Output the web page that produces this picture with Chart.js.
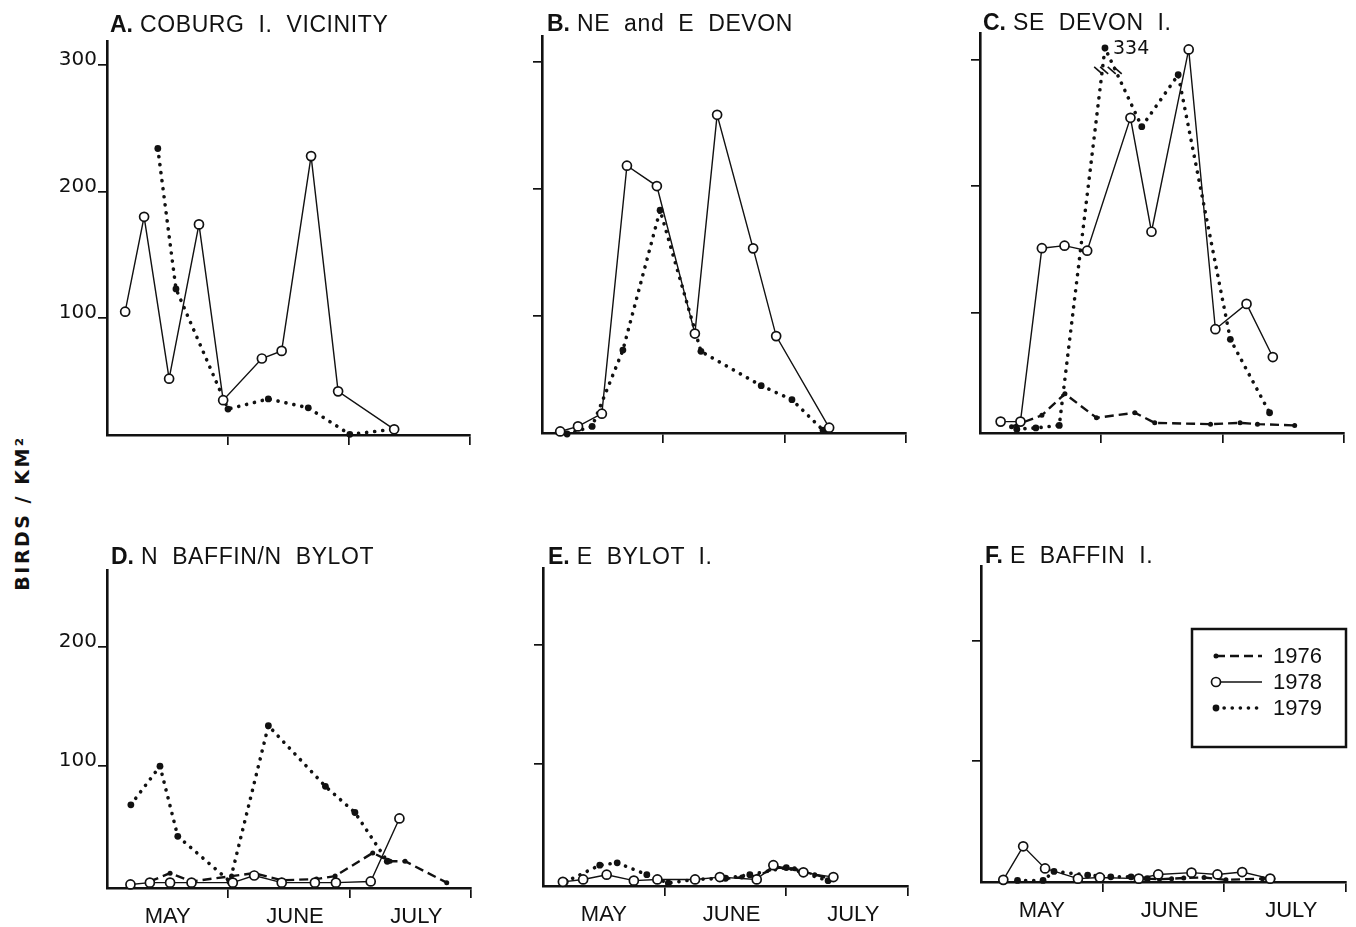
<!DOCTYPE html>
<html>
<head>
<meta charset="utf-8">
<script src="https://cdn.jsdelivr.net/npm/chart.js@4.4.1/dist/chart.umd.min.js"></script>
<style>
  body { margin: 0; background: #fff; }
  #wrap { position: relative; width: 1356px; height: 927px; overflow: hidden; background: #fff; }
  canvas { position: absolute; }
  .ttl { position: absolute; font-family: 'Liberation Sans', Arial, sans-serif; font-size: 23px; line-height: 1;
         white-space: pre; color: #111; letter-spacing: 0.6px; }
  .ttl b { font-weight: bold; letter-spacing: 0; }
  #ylab { position: absolute; left: 22px; top: 513px; transform: translate(-50%, -50%) rotate(-90deg);
          font-family: 'DejaVu Sans', sans-serif; font-weight: bold; font-size: 19px; letter-spacing: 2.5px;
          white-space: pre; color: #111; }
</style>
</head>
<body>
<div id="wrap">
  <div id="ylab">BIRDS / KM²</div>
</div>
<script>
// x = days after 1 May (each month drawn as 30 days), y = birds per km2
const months = ['MAY', 'JUNE', 'JULY'];
const monthLabelDays = [15, 46.5, 76.5];
const monthTicks = [30, 60, 90];
const yTicks = [100, 200, 300];
const years = ['1976', '1978', '1979'];

// A. Coburg I. vicinity
const a1978 = [[4.5, 105], [9.2, 180], [15.4, 52], [22.8, 174], [28.8, 35], [38.4, 68], [43.3, 74], [50.6, 228], [57.3, 42], [71.2, 12]];
const a1979 = [[12.6, 234], [17.1, 123], [30, 28], [40, 36], [49.9, 29], [60.2, 8], [71, 12]];

// B. NE and E Devon
const b1978 = [[4.5, 9], [8.9, 13], [14.8, 23], [21, 218], [28.4, 202], [37.8, 86], [43.3, 258], [52.2, 153], [57.9, 84], [71, 12]];
const b1979 = [[6.2, 7], [12.4, 13], [20, 73], [29.2, 183], [39.3, 72], [54.2, 45], [61.8, 34], [69.5, 10]];

// C. SE Devon I.  (334 is drawn below an axis break)
const c1976 = [[7.8, 10], [15.3, 19], [21, 36], [28.8, 17], [38.3, 21], [43.2, 13], [57, 12], [64.3, 13], [68.6, 12], [77.8, 11]];
const c1978 = [[5.1, 14], [10, 14], [15.3, 151], [20.9, 153], [26.5, 149], [37.2, 254], [42.4, 164], [51.6, 308], [58.2, 87], [65.9, 107], [72.4, 65]];
const c1979 = [[9.1, 8], [13.8, 9], [19.6, 11], [30.9, 334], [40, 247], [49, 288], [61.9, 79], [71.6, 21]];

// D. N Baffin / N Bylot
const d1976 = [[10.6, 3], [15.6, 10], [20.9, 3], [30.8, 7.5], [36.4, 10], [43.2, 4], [51.8, 5], [56.4, 7.5], [65.7, 27], [70, 20], [73.7, 20], [84, 2]];
const d1978 = [[5.8, 0.5], [10.6, 2], [15.6, 2], [20.9, 2], [31.1, 2], [36.4, 8], [43.2, 2], [51.4, 2], [56.6, 2], [65.2, 3], [72.3, 56]];
const d1979 = [[5.9, 67.5], [13.1, 100], [17.5, 41], [30.4, 3], [39.9, 134], [54, 83], [61.3, 61], [69.3, 20]];

// E. E Bylot I.
const e1976 = [[44, 3], [49, 5], [53, 6], [57.5, 13], [62, 12], [67, 7], [71.5, 3]];
const e1978 = [[4.9, 1], [9.9, 3], [15.7, 7], [22.4, 2], [28.2, 3], [37.5, 3], [43.6, 5], [52.7, 3], [56.8, 15], [64.2, 9], [71.6, 5]];
const e1979 = [[5.5, 1], [14, 15], [18.3, 17], [25.6, 7], [30.9, 0], [37.5, 3], [45, 4], [51, 7], [60, 13], [70.3, 2]];

// F. E Baffin I.
const f1976 = [[41, 2], [44, 1.5], [47, 2], [50, 2.5], [55, 3], [60.4, 1], [69.4, 2], [72, 2]];
const f1978 = [[5.5, 1], [10.4, 29], [15.8, 10.5], [23.9, 2], [29.3, 3], [38.9, 2], [43.7, 5.5], [51.9, 7], [58.3, 5.5], [64.4, 7.5], [71.3, 2]];
const f1979 = [[9, 0.5], [15.3, 0.5], [18, 8], [26.3, 5], [32, 3.5], [37, 3.5], [41, 2]];

// values above the axis top are folded down (axis break)
const brk = v => v > 320 ? 300 + (v - 300) * 0.27 : v;

// panel frames: l/r/t/b = plot box on the page
const panels = [
  { key: 'A', name: ' COBURG  I.  VICINITY', l: 107, r: 470, t: 38, b: 435, min: 7.5, max: 319, nums: true, months: false,
    s: { '1976': null, '1978': a1978, '1979': a1979 }, tx: 110, ty: 13 },
  { key: 'B', name: ' NE  and  E  DEVON', l: 542, r: 906, t: 33, b: 433, min: 7.8, max: 320, nums: false, months: false,
    s: { '1976': null, '1978': b1978, '1979': b1979 }, tx: 547, ty: 12 },
  { key: 'C', name: ' SE  DEVON  I.', l: 980, r: 1344, t: 30, b: 433, min: 5, max: 321, nums: false, months: false,
    s: { '1976': c1976, '1978': c1978, '1979': c1979 }, tx: 983, ty: 11, breakLabel: true },
  { key: 'D', name: ' N  BAFFIN/N  BYLOT', l: 107, r: 471, t: 567, b: 888, min: -2.5, max: 265, nums: true, months: true,
    s: { '1976': d1976, '1978': d1978, '1979': d1979 }, tx: 111, ty: 545 },
  { key: 'E', name: ' E  BYLOT  I.', l: 543, r: 908, t: 565, b: 886, min: -2.5, max: 265, nums: false, months: true,
    s: { '1976': e1976, '1978': e1978, '1979': e1979 }, tx: 548, ty: 545 },
  { key: 'F', name: ' E  BAFFIN  I.', l: 981, r: 1346, t: 563, b: 882, min: -0.8, max: 262.8, nums: false, months: true,
    s: { '1976': f1976, '1978': f1978, '1979': f1979 }, tx: 985, ty: 544, legend: true }
];

const YW = 60, PT = 10, PR = 12, XH = 12, X2H = 44;

const styles = {
  '1978': { borderWidth: 1.4, pointRadius: 4.5, pointBackgroundColor: '#fff', pointBorderWidth: 1.7, borderDash: [] },
  '1979': { borderWidth: 3.6, borderDash: [0.1, 8], borderCapStyle: 'round', pointRadius: 3.4, pointBackgroundColor: '#111', pointBorderWidth: 0 },
  '1976': { borderWidth: 2.4, borderDash: [9, 5], pointRadius: 2.5, pointBackgroundColor: '#111', pointBorderWidth: 0 }
};

// break marks and the "334" label for panel C, legend box for panel F
const extras = {
  id: 'extras',
  afterDatasetsDraw(chart, args, opts) {
    const ctx = chart.ctx;
    const xs = chart.scales.x, ys = chart.scales.y;
    if (opts.breakLabel) {
      const ds = chart.data.datasets.find(d => d.label === '1979');
      const i = ds.raw.findIndex(p => p[1] > 320);
      const peak = ds.data[i];
      const px = xs.getPixelForValue(peak.x), py = ys.getPixelForValue(peak.y);
      ctx.save();
      ctx.strokeStyle = '#111';
      ctx.lineWidth = 1.6;
      [ds.data[i - 1], ds.data[i + 1]].forEach(n => {
        const nx = xs.getPixelForValue(n.x), ny = ys.getPixelForValue(n.y);
        const t = (ys.getPixelForValue(291) - py) / (ny - py);
        const mx = px + (nx - px) * t, my = ys.getPixelForValue(291);
        [-3, 3].forEach(k => {
          ctx.beginPath();
          ctx.moveTo(mx - 5 + k, my - 4);
          ctx.lineTo(mx + 3 + k, my + 3);
          ctx.stroke();
        });
      });
      ctx.fillStyle = '#111';
      ctx.font = '19px "DejaVu Sans", sans-serif';
      ctx.textBaseline = 'middle';
      ctx.textAlign = 'left';
      ctx.fillText(String(ds.raw[i][1]), px + 8, py + 1);
      ctx.restore();
    }
    if (opts.legend) {
      const ca = chart.chartArea;
      const bx = ca.right - 154, by = ca.top + 63, bw = 154, bh = 118;
      ctx.save();
      ctx.strokeStyle = '#111';
      ctx.lineWidth = 2.5;
      ctx.strokeRect(bx, by, bw, bh);
      ctx.font = '22px "Liberation Sans", Arial, sans-serif';
      ctx.textBaseline = 'middle';
      ctx.fillStyle = '#111';
      years.forEach((yr, k) => {
        const st = styles[yr];
        const yy = by + 27 + k * 26;
        ctx.beginPath();
        ctx.setLineDash(st.borderDash);
        ctx.lineCap = st.borderCapStyle || 'butt';
        ctx.lineWidth = st.borderWidth;
        ctx.moveTo(bx + 24, yy);
        ctx.lineTo(bx + 70, yy);
        ctx.stroke();
        ctx.setLineDash([]);
        ctx.beginPath();
        ctx.arc(bx + 24, yy, st.pointRadius, 0, Math.PI * 2);
        ctx.fillStyle = st.pointBackgroundColor;
        ctx.fill();
        if (st.pointBorderWidth) { ctx.lineWidth = st.pointBorderWidth; ctx.stroke(); }
        ctx.fillStyle = '#111';
        ctx.fillText(yr, bx + 81, yy + 1);
      });
      ctx.restore();
    }
  }
};

const wrap = document.getElementById('wrap');

panels.forEach(p => {
  const cv = document.createElement('canvas');
  const W = (p.r - p.l) + YW + PR, H = (p.b - p.t) + PT + XH + X2H;
  cv.width = W; cv.height = H;
  cv.style.left = (p.l - YW) + 'px';
  cv.style.top = (p.t - PT) + 'px';
  wrap.appendChild(cv);

  const t = document.createElement('div');
  t.className = 'ttl';
  t.style.left = p.tx + 'px';
  t.style.top = p.ty + 'px';
  t.innerHTML = '<b>' + p.key + '.</b>' + p.name;
  wrap.appendChild(t);

  // 1978 first so that its open circles sit on top
  const datasets = ['1978', '1979', '1976'].filter(yr => p.s[yr]).map(yr => Object.assign({
    label: yr,
    raw: p.s[yr],
    data: p.s[yr].map(([d, v]) => ({ x: d, y: brk(v) })),
    borderColor: '#111',
    pointBorderColor: '#111',
    pointStyle: 'circle',
    tension: 0,
    clip: false
  }, styles[yr]));

  new Chart(cv.getContext('2d'), {
    type: 'line',
    data: { datasets },
    options: {
      responsive: false,
      animation: false,
      events: [],
      layout: { padding: { left: 0, top: PT, right: PR, bottom: 0 }, autoPadding: false },
      plugins: {
        legend: { display: false },
        tooltip: { enabled: false },
        extras: { breakLabel: !!p.breakLabel, legend: !!p.legend }
      },
      scales: {
        x: {
          type: 'linear', position: 'bottom', min: 0, max: 90,
          afterBuildTicks: s => { s.ticks = monthTicks.map(v => ({ value: v })); },
          afterFit: s => { s.height = XH; },
          ticks: { display: false },
          grid: { drawOnChartArea: false, drawTicks: true, tickLength: 10, color: '#111', lineWidth: 1.7 },
          border: { display: true, color: '#111', width: 2.6 }
        },
        x2: {
          type: 'linear', position: 'bottom', min: 0, max: 90,
          afterBuildTicks: s => { s.ticks = monthLabelDays.map(v => ({ value: v })); },
          afterFit: s => { s.height = X2H; },
          ticks: {
            display: p.months, autoSkip: false, maxRotation: 0, padding: 4, color: '#111',
            font: { family: "'Liberation Sans', Arial, sans-serif", size: 22 },
            callback: (v, i) => months[i]
          },
          grid: { display: false, drawTicks: false },
          border: { display: false }
        },
        y: {
          type: 'linear', min: p.min, max: p.max,
          afterBuildTicks: s => { s.ticks = yTicks.filter(v => v <= p.max).map(v => ({ value: v })); },
          afterFit: s => { s.width = YW; },
          ticks: {
            padding: 1, color: '#111', labelOffset: -5,
            font: { family: "'DejaVu Sans', sans-serif", size: 20 },
            callback: v => p.nums ? String(v) : ''
          },
          grid: { drawOnChartArea: false, drawTicks: true, tickLength: 9, color: '#111', lineWidth: 1.7 },
          border: { display: true, color: '#111', width: 2.6 }
        }
      }
    },
    plugins: [extras]
  });
});
</script>
</body>
</html>
